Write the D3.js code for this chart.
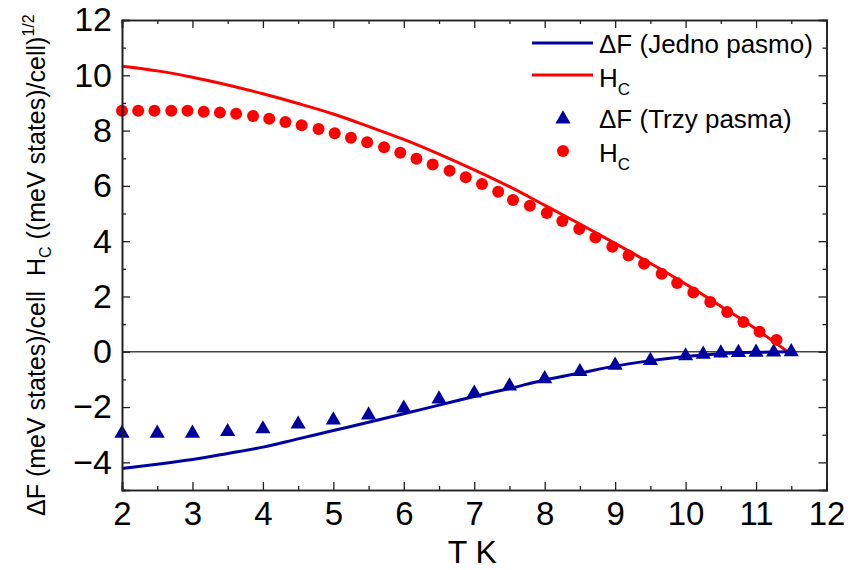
<!DOCTYPE html>
<html><head><meta charset="utf-8">
<script src="https://cdn.jsdelivr.net/npm/d3@7/dist/d3.min.js"></script>
<style>body{margin:0;background:#fff}svg{display:block}text{font-family:"Liberation Sans",Arial,sans-serif}</style>
</head><body><svg id="c" width="848" height="570"></svg>
<script>
// One-band (Jedno pasmo) model curves
const lineT = [2,2.5,3,3.5,4,4.5,5,5.5,6,6.5,7,7.5,8,8.5,9,9.5,10,10.5,11,11.45];
const hcLine = [10.33,10.16,9.93,9.65,9.33,8.98,8.6,8.15,7.68,7.15,6.58,5.97,5.3,4.62,3.92,3.2,2.45,1.65,0.82,0];
const dfLineT = [2,2.5,3,3.5,4,4.5,5,5.5,6,6.5,7,7.5,8,8.5,9,9.5,10,10.5,11,11.5];
const dfLine = [-4.22,-4.07,-3.9,-3.68,-3.45,-3.15,-2.85,-2.55,-2.24,-1.93,-1.62,-1.33,-1.02,-0.77,-0.52,-0.32,-0.17,-0.07,-0.02,0];
// Three-band (Trzy pasma) points
const dotT = [2,2.23,2.46,2.7,2.93,3.16,3.39,3.62,3.86,4.09,4.32,4.55,4.79,5.02,5.25,5.48,5.72,5.95,6.18,6.41,6.65,6.88,7.11,7.34,7.55,7.79,8.03,8.25,8.49,8.72,8.96,9.19,9.41,9.66,9.88,10.11,10.35,10.59,10.82,11.05,11.29];
const hcDots = [8.72,8.72,8.72,8.72,8.72,8.68,8.65,8.61,8.53,8.43,8.31,8.19,8.06,7.9,7.74,7.58,7.4,7.2,6.98,6.77,6.55,6.31,6.07,5.79,5.49,5.28,5.02,4.73,4.44,4.13,3.8,3.48,3.18,2.82,2.49,2.14,1.8,1.44,1.08,0.72,0.43];
const triT = [2,2.5,3,3.5,4,4.5,5,5.5,6,6.5,7,7.5,8,8.5,9,9.5,10,10.25,10.5,10.75,11,11.25,11.5];
const dfTri = [-2.95,-2.95,-2.95,-2.89,-2.79,-2.62,-2.47,-2.29,-2.04,-1.71,-1.5,-1.24,-0.98,-0.72,-0.49,-0.32,-0.15,-0.09,-0.05,-0.03,-0.02,-0.01,0];
const xTicks = [2,3,4,5,6,7,8,9,10,11,12];
const yTicks = [-4,-2,0,2,4,6,8,10,12];

const BLUE = "#0000a0", RED = "#ff0000", AX = "#222";
const svg = d3.select("#c");
const L = 122, R = 826.5, T = 20, B = 490;
const x = d3.scaleLinear().domain([2,12]).range([L,R]);
const y = d3.scaleLinear().domain([-5,12]).range([B,T]);

// zero line
svg.append("line").attr("x1",L).attr("x2",R).attr("y1",y(0)).attr("y2",y(0))
  .attr("stroke","#444").attr("stroke-width",1.3);

// curves
const ln = d3.line().x(d=>x(d[0])).y(d=>y(d[1]));
svg.append("path").datum(lineT.map((t,i)=>[t,hcLine[i]])).attr("d",ln.curve(d3.curveMonotoneX))
  .attr("fill","none").attr("stroke",RED).attr("stroke-width",3);
svg.append("path").datum(dfLineT.map((t,i)=>[t,dfLine[i]])).attr("d",ln.curve(d3.curveMonotoneX))
  .attr("fill","none").attr("stroke",BLUE).attr("stroke-width",3);

// markers
const tri = d3.symbol().type(d3.symbolTriangle).size(100);
svg.append("g").selectAll("path").data(triT.map((t,i)=>[t,dfTri[i]])).join("path")
  .attr("d",tri).attr("transform",d=>`translate(${x(d[0])},${y(d[1])})`).attr("fill",BLUE);
svg.append("g").selectAll("circle").data(dotT.map((t,i)=>[t,hcDots[i]])).join("circle")
  .attr("cx",d=>x(d[0])).attr("cy",d=>y(d[1])).attr("r",6).attr("fill",RED);

// axes
function style(g){g.select(".domain").attr("stroke",AX).attr("stroke-width",1.6);
  g.selectAll(".tick line").attr("stroke",AX).attr("stroke-width",1.3);}
const xMinor = d3.range(2.5,12,1), yMinor = d3.range(-5,12,2);
svg.append("g").attr("transform",`translate(0,${B})`)
  .call(d3.axisBottom(x).tickValues(xTicks).tickSize(-8).tickPadding(12).tickFormat(d3.format("d")))
  .call(style).call(g=>g.selectAll("text").attr("font-size",33).attr("fill","#000"));
svg.append("g").attr("transform",`translate(0,${B})`)
  .call(d3.axisBottom(x).tickValues(xMinor).tickSize(-4).tickFormat("")).call(style);
svg.append("g").attr("transform",`translate(0,${T})`)
  .call(d3.axisTop(x).tickValues(xTicks).tickSize(-8).tickFormat("")).call(style);
svg.append("g").attr("transform",`translate(0,${T})`)
  .call(d3.axisTop(x).tickValues(xMinor).tickSize(-4).tickFormat("")).call(style);
svg.append("g").attr("transform",`translate(${L},0)`)
  .call(d3.axisLeft(y).tickValues(yTicks).tickSize(-8).tickPadding(10).tickFormat(d3.format("d")))
  .call(style).call(g=>g.selectAll("text").attr("font-size",34).attr("fill","#000"));
svg.append("g").attr("transform",`translate(${L},0)`)
  .call(d3.axisLeft(y).tickValues(yMinor).tickSize(-4).tickFormat("")).call(style);
svg.append("g").attr("transform",`translate(${R},0)`)
  .call(d3.axisRight(y).tickValues(yTicks).tickSize(-8).tickFormat("")).call(style);
svg.append("g").attr("transform",`translate(${R},0)`)
  .call(d3.axisRight(y).tickValues(yMinor).tickSize(-4).tickFormat("")).call(style);

// axis titles
svg.append("text").attr("x",(L+R)/2-2).attr("y",563).attr("text-anchor","middle")
  .attr("font-size",32).text("T K");
const yt = svg.append("g").attr("transform","translate(45,0) rotate(-90)");
yt.append("text").attr("x",-516).attr("y",0).attr("font-size",25).text("ΔF (meV states)/cell");
const t2 = yt.append("text").attr("x",-276).attr("y",0).attr("font-size",25);
t2.append("tspan").text("H");
t2.append("tspan").attr("font-size",16).attr("dy",6).text("C");
t2.append("tspan").attr("dy",-6).text(" ((meV states)/cell)");
t2.append("tspan").attr("font-size",16).attr("dy",-11).text("1/2");

// legend
const lg = svg.append("g");
const LX = 599;
lg.append("line").attr("x1",532).attr("x2",593).attr("y1",43).attr("y2",43).attr("stroke",BLUE).attr("stroke-width",3);
lg.append("text").attr("x",LX).attr("y",53).attr("font-size",26).text("ΔF (Jedno pasmo)");
lg.append("line").attr("x1",532).attr("x2",593).attr("y1",75).attr("y2",75).attr("stroke",RED).attr("stroke-width",3);
const h1 = lg.append("text").attr("x",LX).attr("y",87).attr("font-size",26);
h1.append("tspan").text("H"); h1.append("tspan").attr("font-size",17).attr("dy",8).text("C");
lg.append("path").attr("d",tri).attr("transform","translate(563,119)").attr("fill",BLUE);
lg.append("text").attr("x",LX).attr("y",128).attr("font-size",26).text("ΔF (Trzy pasma)");
lg.append("circle").attr("cx",563).attr("cy",151).attr("r",6).attr("fill",RED);
const h2 = lg.append("text").attr("x",LX).attr("y",162).attr("font-size",26);
h2.append("tspan").text("H"); h2.append("tspan").attr("font-size",17).attr("dy",8).text("C");
</script></body></html>
